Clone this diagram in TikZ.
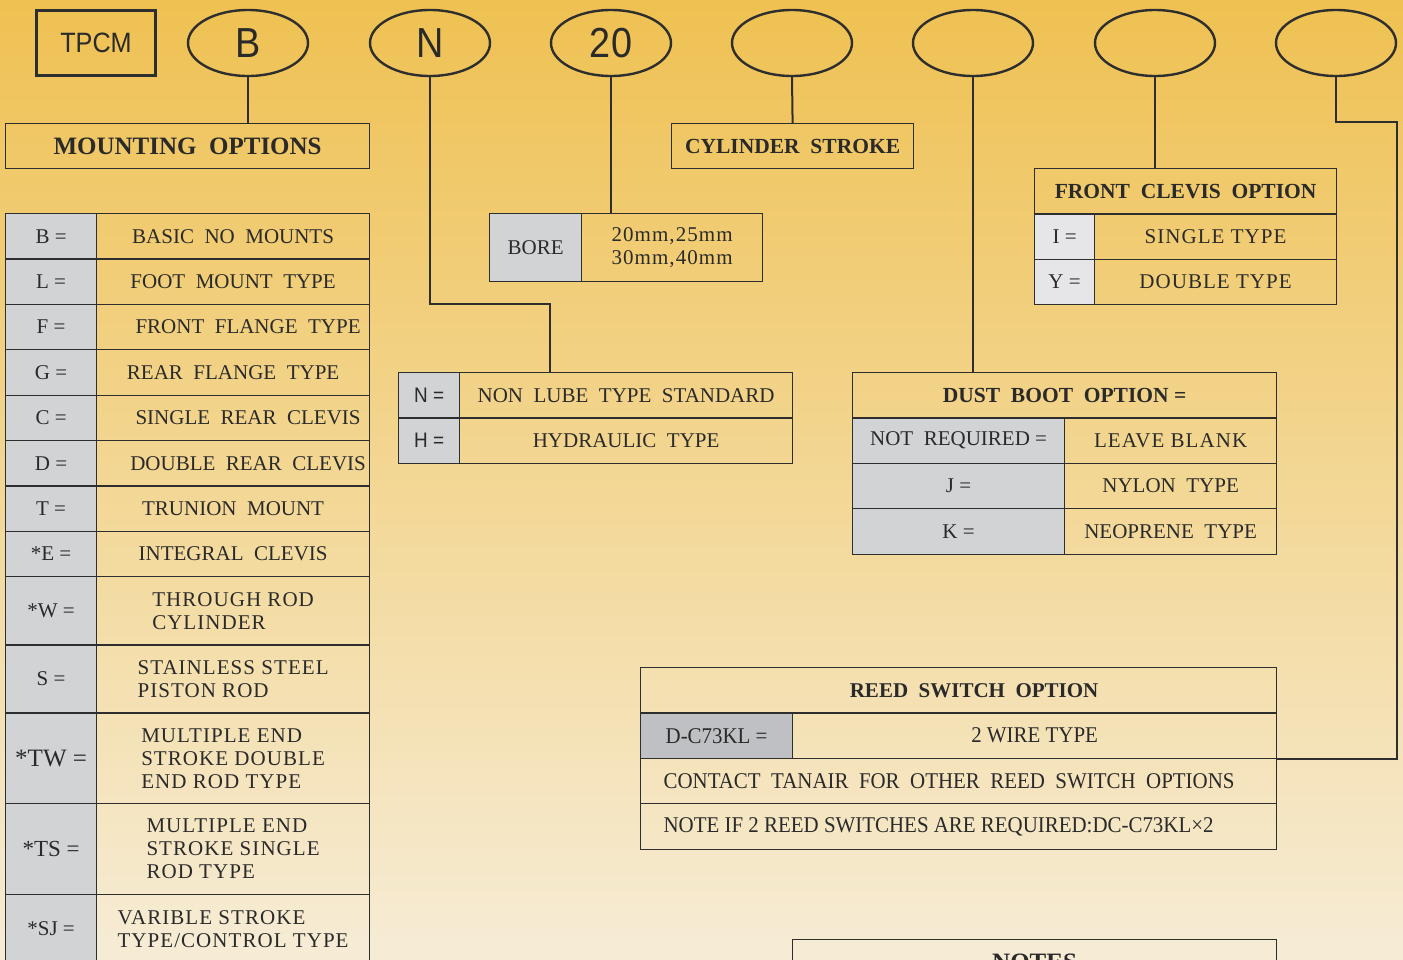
\documentclass[tikz,border=0pt]{standalone}
\usepackage{fontspec}
\usetikzlibrary{shapes.geometric}
\setmainfont{Liberation Serif}
\newfontfamily\sansf{Liberation Sans}[FakeStretch=0.9]
\newfontfamily\trkf{Liberation Serif}[LetterSpace=5]
\newfontfamily\reedf{Liberation Serif}[FakeStretch=0.93]
\definecolor{linec}{HTML}{2E2E2E}
\definecolor{txt}{HTML}{2A2A2A}
\definecolor{grayc}{HTML}{D2D3D5}
\definecolor{grayl}{HTML}{E6E6E8}
\definecolor{grayd}{HTML}{BFC0C4}
\definecolor{bgtop}{HTML}{EFC152}
\definecolor{bgmid}{HTML}{F2D48C}
\definecolor{bgbot}{HTML}{F6ECD6}
\newcommand\mkcell[7]{\node[#6, minimum width={(#4)-(#2)}, minimum height={(#5)-(#3)}] (#1) at (#2,#3) {#7};}
\begin{document}
\begin{tikzpicture}[x=1pt,y=-1pt,
  cell/.style={draw=linec, line width=1.2pt, rectangle, anchor=north west, inner sep=0pt, text=txt, font=\fontsize{21}{23}\selectfont, align=center},
  gcell/.style={cell, fill=grayc},
  head/.style={cell, font=\fontsize{21.5}{24}\selectfont\bfseries},
  multi/.style={cell, align=left, font=\trkf\fontsize{21}{23}\selectfont},
  reed/.style={cell, font=\reedf\fontsize{22.5}{24}\selectfont},
  oval/.style={draw=linec, line width=2.4pt, ellipse, minimum width=120pt, minimum height=66pt, inner sep=0pt, font=\sansf\fontsize{42}{42}\selectfont, text=txt},
  conn/.style={draw=linec, line width=2pt}]
\useasboundingbox (0,0) rectangle (1403,959);
\clip (0,0) rectangle (1403,959);
\shade[top color=bgtop, middle color=bgmid, bottom color=bgbot] (0,0) rectangle (1403,959);

% top code line
\node[draw=linec, line width=3pt, minimum width=119pt, minimum height=65pt, inner sep=0pt, text=txt, font=\sansf\fontsize{28}{28}\selectfont] (tpcm) at (96,43) {TPCM};
\node[oval] (eB) at (248,43) {B};
\node[oval] (eN) at (430,43) {N};
\node[oval] (e20) at (611,43) {20};
\node[oval] (eS) at (792,43) {};
\node[oval] (eD) at (973,43) {};
\node[oval] (eF) at (1155,43) {};
\node[oval] (eR) at (1336,43) {};

% mounting options
\mkcell{mhead}{5}{123}{369}{168}{head, font=\fontsize{25}{27}\selectfont\bfseries}{MOUNTING\ \ OPTIONS}
\mkcell{m1l}{5}{213}{96}{258.4}{gcell}{B =}
\mkcell{m1r}{96}{213}{369}{258.4}{cell}{BASIC\ \ NO\ \ MOUNTS}
\mkcell{m2l}{5}{258.4}{96}{303.8}{gcell}{L =}
\mkcell{m2r}{96}{258.4}{369}{303.8}{cell}{FOOT\ \ MOUNT\ \ TYPE}
\mkcell{m3l}{5}{303.8}{96}{349.2}{gcell}{F =}
\mkcell{m3r}{96}{303.8}{369}{349.2}{cell}{\hspace*{30pt}FRONT\ \ FLANGE\ \ TYPE}
\mkcell{m4l}{5}{349.2}{96}{394.6}{gcell}{G =}
\mkcell{m4r}{96}{349.2}{369}{394.6}{cell}{REAR\ \ FLANGE\ \ TYPE}
\mkcell{m5l}{5}{394.6}{96}{440}{gcell}{C =}
\mkcell{m5r}{96}{394.6}{369}{440}{cell}{\hspace*{30pt}SINGLE\ \ REAR\ \ CLEVIS}
\mkcell{m6l}{5}{440}{96}{485.4}{gcell}{D =}
\mkcell{m6r}{96}{440}{369}{485.4}{cell}{\hspace*{30pt}DOUBLE\ \ REAR\ \ CLEVIS}
\mkcell{m7l}{5}{485.4}{96}{530.8}{gcell}{T =}
\mkcell{m7r}{96}{485.4}{369}{530.8}{cell}{TRUNION\ \ MOUNT}
\mkcell{m8l}{5}{530.8}{96}{576.2}{gcell}{*E =}
\mkcell{m8r}{96}{530.8}{369}{576.2}{cell}{INTEGRAL\ \ CLEVIS}
\mkcell{m9l}{5}{576.2}{96}{644.3}{gcell}{*W =}
\mkcell{m9r}{96}{576.2}{369}{644.3}{multi}{THROUGH ROD\\CYLINDER}
\mkcell{m10l}{5}{644.3}{96}{712.4}{gcell}{S =}
\mkcell{m10r}{96}{644.3}{369}{712.4}{multi}{STAINLESS STEEL\\PISTON ROD}
\mkcell{m11l}{5}{712.4}{96}{803.2}{gcell, font=\fontsize{25}{27}\selectfont}{*TW =}
\mkcell{m11r}{96}{712.4}{369}{803.2}{multi}{MULTIPLE END\\STROKE DOUBLE\\END ROD TYPE}
\mkcell{m12l}{5}{803.2}{96}{894}{gcell, font=\fontsize{23}{25}\selectfont}{*TS =}
\mkcell{m12r}{96}{803.2}{369}{894}{multi}{MULTIPLE END\\STROKE SINGLE\\ROD TYPE}
\mkcell{m13l}{5}{894}{96}{962.1}{gcell}{*SJ =}
\mkcell{m13r}{96}{894}{369}{962.1}{multi}{VARIBLE STROKE\\TYPE/CONTROL TYPE}

% bore
\mkcell{borel}{489}{213}{581}{281}{gcell}{BORE}
\mkcell{borev}{581}{213}{762}{281}{multi}{20mm,25mm\\30mm,40mm}

% lube type
\mkcell{nl}{398}{372}{459}{417.4}{gcell, font=\sansf\fontsize{21}{23}\selectfont}{N =}
\mkcell{nr}{459}{372}{792}{417.4}{cell}{NON\ \ LUBE\ \ TYPE\ \ STANDARD}
\mkcell{hl}{398}{417.4}{459}{462.8}{gcell, font=\sansf\fontsize{21}{23}\selectfont}{H =}
\mkcell{hr}{459}{417.4}{792}{462.8}{cell}{HYDRAULIC\ \ TYPE}

% cylinder stroke
\mkcell{cyl}{671}{123}{913}{168}{head}{CYLINDER\ \ STROKE}

% front clevis
\mkcell{fhead}{1034}{168}{1336}{213.4}{head}{FRONT\ \ CLEVIS\ \ OPTION}
\mkcell{f1l}{1034}{213.4}{1094}{258.8}{cell, fill=grayl}{I =}
\mkcell{f1r}{1094}{213.4}{1336}{258.8}{multi}{SINGLE TYPE}
\mkcell{f2l}{1034}{258.8}{1094}{304.2}{cell, fill=grayl}{Y =}
\mkcell{f2r}{1094}{258.8}{1336}{304.2}{multi}{DOUBLE TYPE}

% dust boot
\mkcell{dhead}{852}{372}{1276}{417.4}{head}{DUST\ \ BOOT\ \ OPTION =}
\mkcell{d1l}{852}{417.4}{1064}{462.8}{gcell}{NOT\ \ REQUIRED =}
\mkcell{d1r}{1064}{417.4}{1276}{462.8}{multi}{LEAVE BLANK}
\mkcell{d2l}{852}{462.8}{1064}{508.2}{gcell}{J =}
\mkcell{d2r}{1064}{462.8}{1276}{508.2}{cell}{NYLON\ \ TYPE}
\mkcell{d3l}{852}{508.2}{1064}{553.6}{gcell}{K =}
\mkcell{d3r}{1064}{508.2}{1276}{553.6}{cell}{NEOPRENE\ \ TYPE}

% reed switch
\mkcell{rhead}{640}{667}{1276}{712.4}{head, font=\fontsize{21}{24}\selectfont\bfseries}{\hspace*{31pt}REED\ \ SWITCH\ \ OPTION}
\mkcell{r1l}{640}{712.4}{792}{757.8}{reed, fill=grayd}{D-C73KL =}
\mkcell{r1v}{792}{712.4}{1276}{757.8}{reed}{2 WIRE TYPE}
\mkcell{r2}{640}{757.8}{1276}{803.2}{reed}{\makebox[590pt][l]{CONTACT\ \ TANAIR\ \ FOR\ \ OTHER\ \ REED\ \ SWITCH\ \ OPTIONS}}
\mkcell{r3}{640}{803.2}{1276}{848.6}{reed}{\makebox[590pt][l]{NOTE IF 2 REED SWITCHES ARE REQUIRED:DC-C73KL×2}}

% notes
\mkcell{notes}{792}{939}{1276}{984}{head, font=\fontsize{25}{27}\selectfont\bfseries}{NOTES}

% connectors
\draw[conn] (eB.south) -- (eB.south |- mhead.north);
\coordinate (nbend) at (550,304);
\draw[conn] (eN.south) |- (nbend) -- (nbend |- nr.north);
\draw[conn] (e20.south) -- (e20.south |- borev.north);
\draw[conn] (eS.south) -- (cyl.north);
\draw[conn] (eD.south) -- (eD.south |- dhead.north);
\draw[conn] (eF.south) -- (eF.south |- fhead.north);
\coordinate (rbend) at (1397,122);
\draw[conn] (eR.south) |- (rbend) |- (r1v.south east);
\end{tikzpicture}
\end{document}
